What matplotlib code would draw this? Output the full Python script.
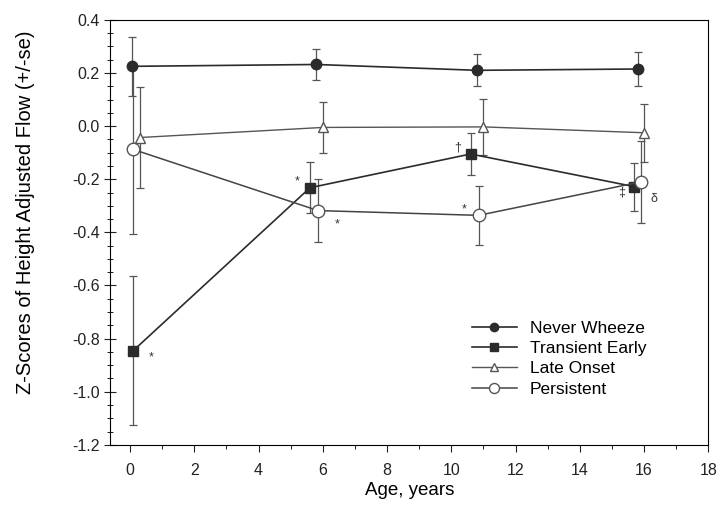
import numpy as np
import matplotlib.pyplot as plt
from matplotlib.ticker import MultipleLocator

plt.rcParams['font.family'] = ['Liberation Sans', 'DejaVu Sans']

# ages (years) for each group
nw_x = [0.05, 5.8, 10.8, 15.8]
te_x = [0.1, 5.6, 10.6, 15.7]
lo_x = [0.3, 6.0, 11.0, 16.0]
pe_x = [0.1, 5.85, 10.85, 15.9]

# z-scores and standard errors
nw_y = [0.225, 0.232, 0.21, 0.215]
nw_se = [0.11, 0.06, 0.06, 0.065]
te_y = [-0.845, -0.232, -0.105, -0.228]
te_se = [0.28, 0.095, 0.08, 0.09]
lo_y = [-0.043, -0.005, -0.003, -0.025]
lo_se = [0.19, 0.095, 0.105, 0.11]
pe_y = [-0.088, -0.318, -0.336, -0.21]
pe_se = [0.32, 0.12, 0.11, 0.155]

labels = ["Never Wheeze", "Transient Early", "Late Onset", "Persistent"]

# significance marks: (x, y, text)
marks = [(0.65, -0.87, "*"), (5.2, -0.21, "*"), (6.45, -0.37, "*"),
         (10.2, -0.08, "\u2020"), (10.4, -0.315, "*"),
         (15.3, -0.25, "\u2021"), (16.3, -0.275, "\u03b4")]

fig = plt.figure(figsize=(7.25, 5.09), dpi=100)
ax = fig.add_axes([0.152, 0.126, 0.825, 0.835])

col = "#2b2b2b"
ekw = dict(elinewidth=0.9, capsize=3, capthick=0.9, ecolor="#555555")
ax.errorbar(nw_x, nw_y, yerr=nw_se, color=col, marker="o", ms=7.5,
            mfc=col, mec=col, lw=1.2, label=labels[0], **ekw)
ax.errorbar(te_x, te_y, yerr=te_se, color=col, marker="s", ms=6.5,
            mfc=col, mec=col, lw=1.2, label=labels[1], **ekw)
ax.errorbar(lo_x, lo_y, yerr=lo_se, color="#555555", marker="^", ms=7,
            mfc="white", mec="#555555", lw=1.0, label=labels[2], **ekw)
ax.errorbar(pe_x, pe_y, yerr=pe_se, color="#444444", marker="o", ms=9,
            mfc="white", mec="#555555", lw=1.1, label=labels[3], **ekw)

for x, y, t in marks:
    ax.text(x, y, t, fontsize=9, ha="center", va="center", color="#333333")

ax.set_xlim(-0.62, 18)
ax.set_ylim(-1.2, 0.4)
ax.xaxis.set_major_locator(MultipleLocator(2))
ax.xaxis.set_minor_locator(MultipleLocator(1))
ax.yaxis.set_major_locator(MultipleLocator(0.2))
ax.yaxis.set_minor_locator(MultipleLocator(0.05))
ax.set_yticklabels([f"{v:.1f}" for v in ax.get_yticks()])
ax.tick_params(axis="both", labelsize=11.5, colors="#222222")
ax.tick_params(axis="y", which="major", direction="inout", length=8)
ax.tick_params(axis="y", which="minor", direction="inout", length=4)
ax.tick_params(axis="x", which="major", direction="out", length=5)
ax.tick_params(axis="x", which="minor", direction="out", length=3)
ax.tick_params(axis="x", which="major", pad=8)

ax.set_xlabel("Age, years", fontsize=13.5, labelpad=3)
ax.set_ylabel("Z-Scores of Height Adjusted Flow (+/-se)", fontsize=14.5)
ax.yaxis.set_label_coords(-0.125, 0.548)

h, l = ax.get_legend_handles_labels()
h = [x[0] for x in h]
ax.legend(h, l, loc="upper left", bbox_to_anchor=(0.59, 0.312),
          frameon=False, borderpad=0, fontsize=12.5, handlelength=2.6,
          handletextpad=0.75, labelspacing=0.29, markerscale=0.8)

fig.savefig("out.png", dpi=100)
